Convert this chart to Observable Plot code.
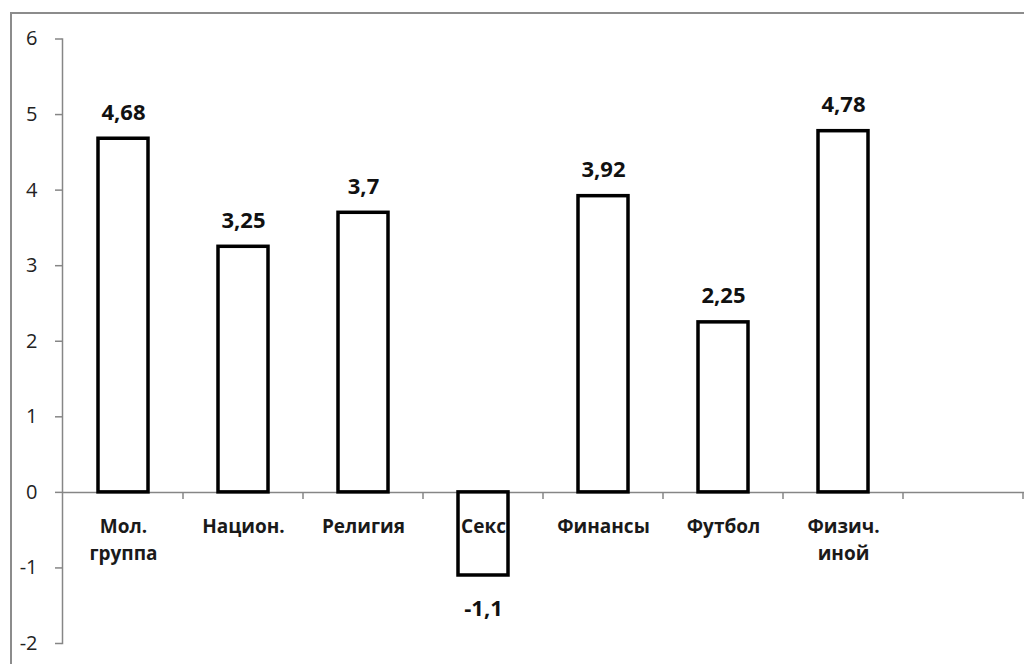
<!DOCTYPE html>
<html>
<head>
<meta charset="utf-8">
<script src="https://cdn.jsdelivr.net/npm/d3@7"></script>
<script src="https://cdn.jsdelivr.net/npm/@observablehq/plot@0.6"></script>
<style>
  html, body { margin: 0; padding: 0; background: #fff; }
  #wrap { position: relative; width: 1024px; height: 664px; overflow: hidden; }
  #border { position: absolute; left: 10px; top: 12px; width: 2000px; height: 2000px;
            border-left: 2px solid #8c8c8c; border-top: 2px solid #8c8c8c; }
  #chart { position: absolute; left: 0; top: 0; }
</style>
</head>
<body>
<div id="wrap"><div id="border"></div><div id="chart"></div></div>
<script>
const categories = ["Мол.\nгруппа", "Национ.", "Религия", "Секс", "Финансы", "Футбол", "Физич.\nиной", ""];
const values = [4.68, 3.25, 3.7, -1.1, 3.92, 2.25, 4.78];
const valueLabels = ["4,68", "3,25", "3,7", "-1,1", "3,92", "2,25", "4,78"];
const yTicks = [-2, -1, 0, 1, 2, 3, 4, 5, 6];

const data = values.map((v, i) => ({cat: categories[i], value: v, label: valueLabels[i]}));
const font = "'Open Sans', sans-serif";

function boundaryTicks(index, scales, values, dimensions) {
  const x = scales.x, y = scales.y;
  const step = x(categories[1]) - x(categories[0]);
  let bw = x.bandwidth;
  if (typeof bw === "function") bw = bw();
  if (!isFinite(bw)) bw = 0;
  const g = d3.create("svg:g").attr("stroke", "#868686").attr("stroke-width", 1.5);
  categories.forEach(c => {
    const xr = x(c) + bw / 2 + step / 2;
    g.append("line").attr("x1", xr).attr("x2", xr)
      .attr("y1", y(0)).attr("y2", y(0) + 7);
  });
  return g.node();
}

const plot = Plot.plot({
  width: 1024,
  height: 664,
  marginLeft: 62,
  marginRight: 0,
  marginTop: 38.5,
  marginBottom: 21,
  style: {fontFamily: font, background: "transparent"},
  x: {domain: categories, paddingInner: 0.58, paddingOuter: 0.29, axis: null, label: null},
  y: {domain: [-2, 6], axis: null, label: null},
  marks: [
    Plot.frame({anchor: "left", stroke: "#868686", strokeWidth: 1.5}),
    Plot.axisY(yTicks, {tickSize: 7, tickPadding: 18, stroke: "#868686", strokeWidth: 1.5, label: null,
      tickFormat: d => String(d), fontSize: 20, fill: "#222", fontFamily: font}),
    Plot.ruleY([0], {stroke: "#868686", strokeWidth: 1.5}),
    boundaryTicks,
    Plot.barY(data, {x: "cat", y: "value", fill: "white"}),
    Plot.text(categories.slice(0, 7), {x: d => d, y: 0, dy: 22, lineAnchor: "top",
      text: d => d, fontSize: 19, fontWeight: "bold", fill: "#1a1a1a", lineHeight: 1.4}),
    Plot.barY(data, {x: "cat", y: "value", fill: "none", stroke: "black", strokeWidth: 3.5}),
    Plot.text(data.filter(d => d.value >= 0), {x: "cat", y: "value", text: "label", dy: -26,
      fontSize: 22, fontWeight: "bold", fill: "#111"}),
    Plot.text(data.filter(d => d.value < 0), {x: "cat", y: "value", text: "label", dy: 33,
      fontSize: 22, fontWeight: "bold", fill: "#111"})
  ]
});
document.getElementById("chart").appendChild(plot);
</script>
</body>
</html>
